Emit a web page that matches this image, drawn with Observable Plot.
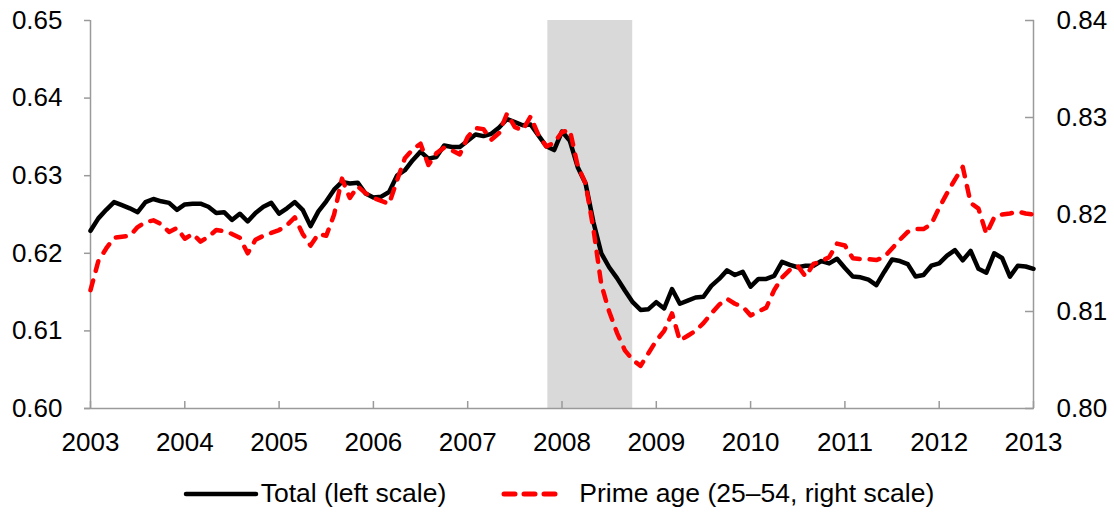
<!DOCTYPE html>
<html><head><meta charset="utf-8">
<script src="https://cdn.jsdelivr.net/npm/d3@7"></script>
<script src="https://cdn.jsdelivr.net/npm/@observablehq/plot@0.6"></script>
<style>
html,body{margin:0;padding:0;background:#fff;}
body{font-family:"Liberation Sans",Arial,sans-serif;width:1114px;height:512px;overflow:hidden;}
#legend{display:flex;justify-content:center;align-items:center;height:37px;font-size:26.5px;color:#000;padding-left:3px;}
#legend .item{display:flex;align-items:center;}
#legend svg{display:block;}
</style></head>
<body>
<div id="chart"></div>
<div id="legend"></div>
<script>
// Monthly observations, January 2003 to January 2013
const startYear = 2003;
const total = [
0.6229,0.6245,0.6256,0.6266,0.6262,0.6258,0.6253,0.6266,0.6270,0.6267,0.6265,0.6256,
0.6263,0.6264,0.6264,0.6260,0.6252,0.6253,0.6243,0.6251,0.6241,0.6252,0.6260,0.6265,
0.6251,0.6258,0.6266,0.6256,0.6235,0.6254,0.6267,0.6282,0.6292,0.6290,0.6291,0.6277,
0.6272,0.6273,0.6279,0.6300,0.6307,0.6320,0.6331,0.6322,0.6324,0.6339,0.6337,0.6337,
0.6345,0.6353,0.6351,0.6354,0.6362,0.6373,0.6369,0.6365,0.6366,0.6352,0.6338,0.6333,
0.6357,0.6345,0.6311,0.6290,0.6240,0.6200,0.6182,0.6168,0.6152,0.6137,0.6127,0.6128,
0.6137,0.6129,0.6154,0.6135,0.6139,0.6143,0.6144,0.6158,0.6167,0.6178,0.6172,0.6176,
0.6157,0.6167,0.6167,0.6171,0.6189,0.6185,0.6182,0.6184,0.6184,0.6190,0.6187,0.6193,
0.6181,0.6170,0.6169,0.6166,0.6159,0.6176,0.6192,0.6190,0.6186,0.6170,0.6172,0.6184,
0.6187,0.6197,0.6204,0.6191,0.6203,0.6180,0.6175,0.6200,0.6194,0.6170,0.6184,0.6183,
0.6180
];
const primeAge = [
0.8122,0.8152,0.8165,0.8176,0.8177,0.8178,0.8187,0.8192,0.8194,0.8190,0.8182,0.8186,
0.8175,0.8180,0.8172,0.8177,0.8184,0.8183,0.8180,0.8176,0.8160,0.8174,0.8178,0.8181,
0.8184,0.8189,0.8197,0.8180,0.8168,0.8180,0.8178,0.8200,0.8237,0.8217,0.8229,0.8222,
0.8217,0.8214,0.8211,0.8235,0.8258,0.8267,0.8273,0.8251,0.8263,0.8269,0.8266,0.8262,
0.8280,0.8289,0.8288,0.8277,0.8284,0.8304,0.8290,0.8287,0.8301,0.8282,0.8270,0.8274,
0.8285,0.8287,0.8250,0.8232,0.8185,0.8128,0.8100,0.8078,0.8060,0.8050,0.8044,0.8057,
0.8070,0.8080,0.8098,0.8070,0.8075,0.8080,0.8088,0.8098,0.8107,0.8113,0.8108,0.8105,
0.8096,0.8100,0.8104,0.8122,0.8135,0.8143,0.8147,0.8136,0.8149,0.8152,0.8156,0.8170,
0.8168,0.8155,0.8154,0.8154,0.8153,0.8156,0.8165,0.8174,0.8182,0.8185,0.8185,0.8190,
0.8207,0.8222,0.8236,0.8249,0.8212,0.8206,0.8180,0.8197,0.8200,0.8201,0.8203,0.8201,
0.8200
];
const recession = [{start: 2007.85, end: 2008.75}];
const xTicks = [2003,2004,2005,2006,2007,2008,2009,2010,2011,2012,2013];
const leftTicks = [0.60,0.61,0.62,0.63,0.64,0.65];
const rightTicks = [0.80,0.81,0.82,0.83,0.84];
const leftDomain = [0.60, 0.65];
const rightDomain = [0.80, 0.84];

// map right-scale values onto the left scale
const toLeft = d3.scaleLinear().domain(rightDomain).range(leftDomain);

const totalData = total.map((v, i) => ({t: startYear + i / 12, v}));
const primeData = primeAge.map((v, i) => ({t: startYear + i / 12, v: toLeft(v)}));

const fmt = d3.format(".2f");
const axisGray = "#9a9a9a";

const plot = Plot.plot({
  width: 1114,
  height: 475,
  marginLeft: 90,
  marginRight: 81,
  marginTop: 20,
  marginBottom: 67,
  style: {fontFamily: '"Liberation Sans", Arial, sans-serif', fontSize: "26px", color: "#000", background: "#fff"},
  x: {domain: [2003, 2013], label: null},
  y: {domain: leftDomain, label: null},
  marks: [
    Plot.rect(recession, {x1: "start", x2: "end", y1: leftDomain[0], y2: leftDomain[1], fill: "#d9d9d9"}),
    Plot.ruleX([2003], {stroke: axisGray, strokeWidth: 1.5}),
    Plot.ruleX([2013], {stroke: axisGray, strokeWidth: 1.5}),
    Plot.ruleY([0.60], {stroke: axisGray, strokeWidth: 1.5, insetLeft: -6}),
    Plot.axisY(leftTicks, {anchor: "left", label: null, tickSize: 6, tickPadding: 22, tickFormat: fmt, fontSize: 26}),
    Plot.axisY(rightTicks.map(toLeft), {anchor: "right", label: null, tickSize: -9, tickPadding: 32, tickFormat: d => fmt(toLeft.invert(d)), fontSize: 26}),
    Plot.axisX(xTicks, {anchor: "bottom", label: null, tickSize: -7, tickPadding: 31, tickFormat: d3.format("d"), fontSize: 26}),
    Plot.line(totalData, {x: "t", y: "v", stroke: "#000", strokeWidth: 4.5, strokeLinejoin: "round"}),
    Plot.line(primeData, {x: "t", y: "v", stroke: "#ff0000", strokeWidth: 4.5, strokeDasharray: "10,10", strokeLinecap: "round", strokeLinejoin: "round"})
  ]
});
plot.querySelectorAll('[aria-label$="axis tick"]').forEach(g => {
  g.setAttribute("stroke", axisGray);
  g.setAttribute("stroke-width", "1.5");
});
document.getElementById("chart").appendChild(plot);

// legend
const legendItems = [
  {label: "Total (left scale)", color: "#000", dash: null, width: 4.5, swatch: 76, gap: 2},
  {label: "Prime age (25–54, right scale)", color: "#ff0000", dash: "11,9", width: 5, swatch: 64, gap: 14}
];
const legend = d3.select("#legend");
legendItems.forEach((it, k) => {
  const item = legend.append("div").attr("class", "item").style("margin-left", k === 0 ? "0px" : "55px");
  const s = item.append("svg").attr("width", it.swatch).attr("height", 12).style("margin-right", it.gap + "px");
  s.append("line").attr("x1", 3).attr("x2", it.swatch - 3).attr("y1", 6).attr("y2", 6)
    .attr("stroke", it.color).attr("stroke-width", it.width).attr("stroke-linecap", "round")
    .attr("stroke-dasharray", it.dash);
  item.append("span").text(it.label);
});
</script>
</body></html>
